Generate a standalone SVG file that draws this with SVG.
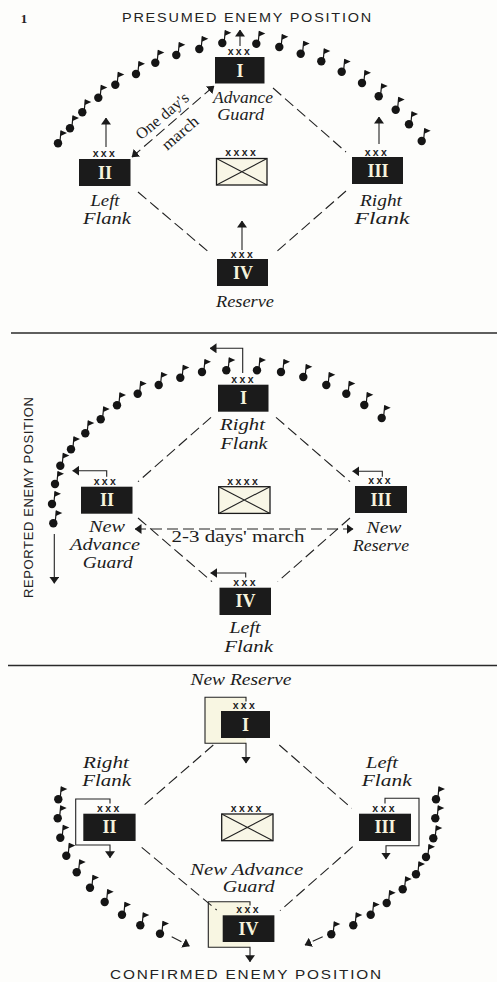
<svg xmlns="http://www.w3.org/2000/svg" width="497" height="982" viewBox="0 0 497 982">
<style>
.cal{font-family:"Liberation Serif",serif;font-style:italic;font-size:16.5px;fill:#1c1c1c;text-anchor:middle}
.up{font-family:"Liberation Serif",serif;font-size:17px;fill:#1c1c1c;text-anchor:middle}
.cap{font-family:"Liberation Sans",sans-serif;font-size:12px;fill:#222}
.num{font-family:"Liberation Serif",serif;font-weight:bold;font-size:18px;fill:#f6f3dc;text-anchor:middle}
.x{font-family:"Liberation Sans",sans-serif;font-weight:bold;font-size:10.5px;fill:#222;text-anchor:middle;letter-spacing:2.4px}
.box{fill:#1b1b1b}
.hq{fill:#f8f6e6;stroke:#1b1b1b;stroke-width:1.3}
.d{fill:none;stroke:#222;stroke-width:1.1;stroke-dasharray:11 5}
.a{fill:none;stroke:#222;stroke-width:1.1}
.route{fill:none;stroke:#222;stroke-width:1.1}
.rule{stroke:#2a2a2a;stroke-width:1.6}
.tint{fill:#f8f6e2}
</style>
<defs>
<g id="flag"><circle cx="0" cy="0" r="4.2" fill="#151515"/><path d="M1.8 0L3 -12.5" stroke="#151515" stroke-width="1.2" fill="none"/><path d="M2.6 -13L9 -10.2L2.6 -7.2Z" fill="#151515"/></g>
<marker id="ah" markerUnits="userSpaceOnUse" viewBox="0 0 7 10" refX="6.5" refY="5" markerWidth="7" markerHeight="10" orient="auto-start-reverse"><path d="M0 0L7 5L0 10Z" fill="#1b1b1b"/></marker>
</defs>
<rect width="497" height="982" fill="#fdfdfb"/>

<g id="rules"><line class="rule" x1="11" y1="333" x2="497" y2="333"/><line class="rule" x1="8" y1="665.5" x2="497" y2="665.5"/></g>

<g id="flags-1">
<use href="#flag" x="58" y="143.3"/><use href="#flag" x="70" y="128.3"/><use href="#flag" x="82.3" y="112.3"/><use href="#flag" x="98.3" y="97.7"/><use href="#flag" x="115.3" y="84.7"/><use href="#flag" x="136" y="74"/><use href="#flag" x="155.3" y="62.7"/><use href="#flag" x="176.3" y="55"/><use href="#flag" x="199.3" y="49"/><use href="#flag" x="222.3" y="43"/><use href="#flag" x="256.3" y="43.7"/><use href="#flag" x="279.3" y="47"/><use href="#flag" x="300.7" y="53.7"/><use href="#flag" x="321.3" y="61.3"/><use href="#flag" x="341.7" y="71.7"/><use href="#flag" x="362" y="83"/><use href="#flag" x="378.7" y="96.3"/><use href="#flag" x="395.7" y="109.7"/><use href="#flag" x="409" y="124.3"/><use href="#flag" x="421.7" y="141"/>
</g>
<g id="flags-2">
<use href="#flag" x="53.3" y="523.3"/><use href="#flag" x="52" y="504"/><use href="#flag" x="55" y="484"/><use href="#flag" x="60.3" y="465.7"/><use href="#flag" x="71" y="449.3"/><use href="#flag" x="85.3" y="433.3"/><use href="#flag" x="100.7" y="419.3"/><use href="#flag" x="117" y="405.3"/><use href="#flag" x="137.7" y="393.7"/><use href="#flag" x="158.7" y="385"/><use href="#flag" x="180.3" y="377.7"/><use href="#flag" x="202" y="372"/><use href="#flag" x="226.3" y="370.3"/><use href="#flag" x="257" y="370.3"/><use href="#flag" x="281" y="372"/><use href="#flag" x="303.3" y="377"/><use href="#flag" x="326.3" y="385"/><use href="#flag" x="346.3" y="393.7"/><use href="#flag" x="364.3" y="405"/><use href="#flag" x="381.7" y="418"/>
</g>
<g id="flags-3">
<use href="#flag" x="58.3" y="799.3"/><use href="#flag" x="57.7" y="818.3"/><use href="#flag" x="60.3" y="837.7"/><use href="#flag" x="66.3" y="855.7"/><use href="#flag" x="76.7" y="872.3"/><use href="#flag" x="90" y="887.7"/><use href="#flag" x="104.7" y="902"/><use href="#flag" x="122" y="914.7"/><use href="#flag" x="140.3" y="925.3"/><use href="#flag" x="160" y="933.7"/>
<use href="#flag" x="436" y="799.3"/><use href="#flag" x="435.3" y="818.3"/><use href="#flag" x="433.3" y="838.3"/><use href="#flag" x="426" y="857"/><use href="#flag" x="416" y="874.3"/><use href="#flag" x="402.7" y="889.3"/><use href="#flag" x="386.7" y="903"/><use href="#flag" x="370.7" y="914.7"/><use href="#flag" x="353.3" y="925.3"/><use href="#flag" x="331.3" y="934.3"/>
</g>

<g id="tints">
<rect class="tint" x="205" y="697.3" width="41" height="46"/>
<rect class="tint" x="208.3" y="901.7" width="41.7" height="45.6"/>
</g>

<g id="connectors">
<path class="d" d="M273 88L346 152"/><path class="d" d="M138 192L211 254"/><path class="d" d="M346 191L275 253"/>
<line class="d" x1="132" y1="157" x2="214" y2="86" marker-start="url(#ah)" marker-end="url(#ah)"/>
<line class="a" x1="106" y1="147" x2="106" y2="118" marker-end="url(#ah)"/>
<line class="a" x1="379" y1="144" x2="379" y2="117" marker-end="url(#ah)"/>
<line class="a" x1="240" y1="46" x2="240" y2="30" marker-end="url(#ah)"/>
<line class="a" x1="242" y1="250" x2="242" y2="221" marker-end="url(#ah)"/>

<path class="d" d="M211 417.3L138 481.7"/><path class="d" d="M276 417.3L350 481.7"/><path class="d" d="M138 518L212 581.7"/><path class="d" d="M350 518L277.7 581.7"/>
<line class="d" x1="135" y1="529" x2="353" y2="529" marker-start="url(#ah)" marker-end="url(#ah)"/>
<path class="a" d="M242.7 373V348.3H210" marker-end="url(#ah)"/>
<path class="a" d="M106.7 476.7V470.7H72.7" marker-end="url(#ah)"/>
<path class="a" d="M382.3 476.7V471.3H352.7" marker-end="url(#ah)"/>
<path class="a" d="M245.7 577.5V573H210.7" marker-end="url(#ah)"/>
<line class="a" x1="54.3" y1="534" x2="54.3" y2="583.3" marker-end="url(#ah)"/>

<path class="d" d="M213.3 745L142.3 806.7"/><path class="d" d="M279.3 745L351.7 808.3"/><path class="d" d="M141.7 847.3L216.7 910"/><path class="d" d="M352.7 846.7L280 910.7"/>
<path class="route" d="M246 701.5V697.3H205V743.3H246V763" marker-end="url(#ah)"/>
<path class="route" d="M110 803.5V799H75.7V845H110V857.7" marker-end="url(#ah)"/>
<path class="route" d="M385 803.5V798.3H419V845.7H386V859" marker-end="url(#ah)"/>
<path class="route" d="M250 905.5V901.7H208.3V947.3H250V961.7" marker-end="url(#ah)"/>
<line class="d" x1="171.7" y1="936.7" x2="189.3" y2="946" marker-end="url(#ah)"/>
<line class="d" x1="322.7" y1="936.7" x2="305" y2="945" marker-end="url(#ah)"/>
</g>

<g id="titles">
<text x="24" y="23" font-family="Liberation Serif, serif" font-weight="bold" font-size="13" fill="#222" text-anchor="middle">1</text>
<text class="cap" x="122" y="21.7" textLength="251" lengthAdjust="spacingAndGlyphs" style="font-size:12px;letter-spacing:1.5px">PRESUMED ENEMY POSITION</text>
<text class="cap" transform="translate(33.3 598) rotate(-90)" textLength="201" lengthAdjust="spacing" style="font-size:13px">REPORTED ENEMY POSITION</text>
<text class="cap" x="110" y="979.3" textLength="273" lengthAdjust="spacingAndGlyphs" style="font-size:12.5px;letter-spacing:1.5px">CONFIRMED ENEMY POSITION</text>
<text class="up" transform="translate(165.5 120) rotate(-40)" textLength="64" lengthAdjust="spacingAndGlyphs" style="font-size:16px">One day's</text>
<text class="up" transform="translate(183.5 137) rotate(-41)" textLength="43" lengthAdjust="spacingAndGlyphs" style="font-size:16px">march</text>
<text class="up" x="238" y="542" textLength="133" lengthAdjust="spacingAndGlyphs">2-3 days' march</text>
</g>

<g id="p1-I"><text class="x" x="240" y="55">xxx</text><rect class="box" x="215" y="57" width="49.5" height="26.5"/><text class="num" x="240" y="76.5">I</text><text class="cal" x="243" y="102.7" textLength="60" lengthAdjust="spacingAndGlyphs">Advance</text><text class="cal" x="240.7" y="120" textLength="47" lengthAdjust="spacingAndGlyphs">Guard</text></g>
<g id="p1-II"><text class="x" x="105" y="156.7">xxx</text><rect class="box" x="79" y="159" width="51.5" height="27"/><text class="num" x="105" y="178.5">II</text><text class="cal" x="105" y="206" textLength="29" lengthAdjust="spacingAndGlyphs">Left</text><text class="cal" x="107" y="223.5" textLength="48" lengthAdjust="spacingAndGlyphs">Flank</text></g>
<g id="p1-III"><text class="x" x="377" y="155.7">xxx</text><rect class="box" x="352" y="157" width="51" height="27"/><text class="num" x="378" y="176.5">III</text><text class="cal" x="381" y="205.7" textLength="42" lengthAdjust="spacingAndGlyphs">Right</text><text class="cal" x="382" y="223.5" textLength="55" lengthAdjust="spacingAndGlyphs">Flank</text></g>
<g id="p1-IV"><text class="x" x="243" y="257.7">xxx</text><rect class="box" x="217" y="259" width="51" height="27"/><text class="num" x="243" y="278.5">IV</text><text class="cal" x="245" y="307" textLength="58" lengthAdjust="spacingAndGlyphs">Reserve</text></g>
<g id="p1-HQ"><text class="x" x="241.7" y="156">xxxx</text><rect class="hq" x="216.5" y="158.5" width="50.5" height="26.5"/><path class="a" d="M216.5 158.5L267 185M267 158.5L216.5 185"/></g>

<g id="p2-I"><text class="x" x="243.7" y="383.3">xxx</text><rect class="box" x="218" y="384.7" width="50.5" height="27"/><text class="num" x="243.5" y="404">I</text><text class="cal" x="242.5" y="430" textLength="45" lengthAdjust="spacingAndGlyphs">Right</text><text class="cal" x="244" y="449.3" textLength="47" lengthAdjust="spacingAndGlyphs">Flank</text></g>
<g id="p2-II"><text class="x" x="106" y="485">xxx</text><rect class="box" x="81" y="486.7" width="51.5" height="27"/><text class="num" x="107" y="506">II</text><text class="cal" x="107" y="531.7" textLength="36" lengthAdjust="spacingAndGlyphs">New</text><text class="cal" x="105" y="550" textLength="70" lengthAdjust="spacingAndGlyphs">Advance</text><text class="cal" x="107.7" y="568.3" textLength="50" lengthAdjust="spacingAndGlyphs">Guard</text></g>
<g id="p2-III"><text class="x" x="380.7" y="484.3">xxx</text><rect class="box" x="355" y="486" width="52" height="27"/><text class="num" x="381" y="505.5">III</text><text class="cal" x="384" y="532.7" textLength="35" lengthAdjust="spacingAndGlyphs">New</text><text class="cal" x="381" y="550.7" textLength="56" lengthAdjust="spacingAndGlyphs">Reserve</text></g>
<g id="p2-IV"><text class="x" x="245.7" y="586">xxx</text><rect class="box" x="219.5" y="587.7" width="51.5" height="27.3"/><text class="num" x="245.5" y="607">IV</text><text class="cal" x="245" y="633" textLength="31" lengthAdjust="spacingAndGlyphs">Left</text><text class="cal" x="248.7" y="651.7" textLength="49" lengthAdjust="spacingAndGlyphs">Flank</text></g>
<g id="p2-HQ"><text class="x" x="243.7" y="484.7">xxxx</text><rect class="hq" x="218.7" y="486.7" width="51.3" height="26.7"/><path class="a" d="M218.7 486.7L270 513.4M270 486.7L218.7 513.4"/></g>

<g id="p3-I"><text class="x" x="245" y="709.3">xxx</text><rect class="box" x="221" y="711" width="49" height="27"/><text class="num" x="245.5" y="730.5">I</text><text class="cal" x="241" y="685" textLength="101" lengthAdjust="spacingAndGlyphs">New Reserve</text></g>
<g id="p3-II"><text class="x" x="109.3" y="811.7">xxx</text><rect class="box" x="83.3" y="813.7" width="52.3" height="27.3"/><text class="num" x="109.5" y="833">II</text><text class="cal" x="106" y="768" textLength="46" lengthAdjust="spacingAndGlyphs">Right</text><text class="cal" x="106.7" y="786" textLength="49" lengthAdjust="spacingAndGlyphs">Flank</text></g>
<g id="p3-III"><text class="x" x="384.7" y="811.7">xxx</text><rect class="box" x="359" y="813.7" width="52" height="27.3"/><text class="num" x="385" y="833">III</text><text class="cal" x="382" y="768" textLength="32" lengthAdjust="spacingAndGlyphs">Left</text><text class="cal" x="386.7" y="786" textLength="50" lengthAdjust="spacingAndGlyphs">Flank</text></g>
<g id="p3-IV"><text class="x" x="248.7" y="913.3">xxx</text><rect class="box" x="222.7" y="915.3" width="51.7" height="26.7"/><text class="num" x="248.5" y="934.5">IV</text><text class="cal" x="246.7" y="874.5" textLength="113" lengthAdjust="spacingAndGlyphs">New Advance</text><text class="cal" x="248.7" y="892" textLength="52" lengthAdjust="spacingAndGlyphs">Guard</text></g>
<g id="p3-HQ"><text class="x" x="247.3" y="811.7">xxxx</text><rect class="hq" x="221.7" y="814" width="51.3" height="26.7"/><path class="a" d="M221.7 814L273 840.7M273 814L221.7 840.7"/></g>
</svg>
